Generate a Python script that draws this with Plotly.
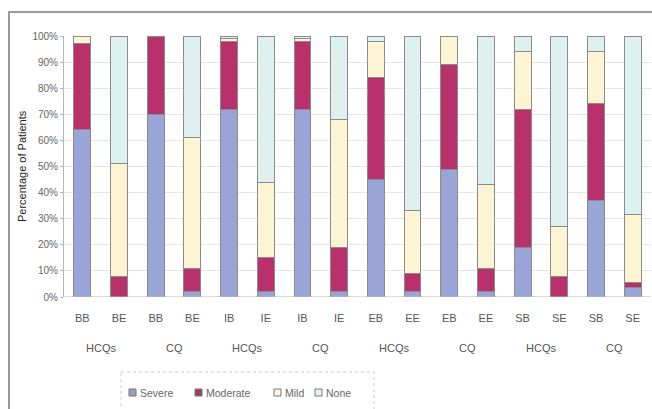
import plotly.graph_objects as go

# Drug groups and visit/stage labels for each bar
drugs = ["HCQs", "HCQs", "CQ", "CQ", "HCQs", "HCQs", "CQ", "CQ",
         "HCQs", "HCQs", "CQ", "CQ", "HCQs", "HCQs", "CQ", "CQ"]
stages = ["BB", "BE", "BB", "BE", "IB", "IE", "IB", "IE",
          "EB", "EE", "EB", "EE", "SB", "SE", "SB", "SE"]

# Percentage of patients in each severity class
severe = [64, 0, 70, 2, 72, 2, 72, 2, 45, 2, 49, 2, 19, 0, 37, 3.5]
moderate = [33, 8, 30, 9, 26, 13, 26, 17, 39, 7, 40, 9, 53, 8, 37, 2]
mild = [3, 43, 0, 50, 1, 29, 1, 49, 14, 24, 11, 32, 22, 19, 20, 26]
none = [0, 49, 0, 39, 1, 56, 1, 32, 2, 67, 0, 57, 6, 73, 6, 68.5]

series_names = ["Severe", "Moderate", "Mild", "None"]
series_values = [severe, moderate, mild, none]
colors = ["#98a5d6", "#b8316d", "#fdf4d4", "#dff0f0"]
legend_colors = ["#9aa0c4", "#98415f", "#fbf6e4", "#e6f1f1"]

W, H = 652, 409
L, R, T, B = 64, 651, 36, 297  # plot area in pixels


def px(x):
    return (x - L) / (R - L)


def py(y):
    return (B - y) / (B - T)


xpos = list(range(len(stages)))

fig = go.Figure()
for name, vals, col in zip(series_names, series_values, colors):
    fig.add_trace(go.Bar(
        x=xpos, y=vals, name=name, marker_color=col,
        marker_line_color="#8c8c8c", marker_line_width=1,
        width=0.46, showlegend=False,
    ))

font_family = "Liberation Sans, Arial, sans-serif"

annotations = []
# Drug group labels under each pair of bars
for i in range(0, len(drugs), 2):
    annotations.append(dict(
        x=i + 0.5, xref="x", y=py(348), yref="paper",
        text=drugs[i], showarrow=False, xanchor="center", yanchor="middle",
        font=dict(size=11, color="#555555", family=font_family),
    ))

# Y axis title
annotations.append(dict(
    x=px(22), xref="paper", y=py(166), yref="paper",
    text="Percentage of Patients", textangle=-90, showarrow=False,
    xanchor="center", yanchor="middle",
    font=dict(size=11, color="#222222", family=font_family),
))

shapes = []
# Outer frame (top and left edges)
shapes.append(dict(
    type="path", xref="paper", yref="paper",
    path=f"M {px(9)} {py(412)} L {px(9)} {py(12)} L {px(655)} {py(12)}",
    line=dict(color="#7a7a7a", width=1.5),
))
# Legend box
shapes.append(dict(
    type="rect", xref="paper", yref="paper",
    x0=px(121), x1=px(374), y0=py(372), y1=py(415),
    line=dict(color="#cccccc", width=1, dash="dot"),
    fillcolor="rgba(0,0,0,0)",
))

legend_x = [129, 195, 274, 315]
for name, col, lx in zip(series_names, legend_colors, legend_x):
    shapes.append(dict(
        type="rect", xref="paper", yref="paper",
        x0=px(lx), x1=px(lx + 7), y0=py(396), y1=py(389),
        line=dict(color="#777777", width=1), fillcolor=col,
    ))
    annotations.append(dict(
        x=px(lx + 9), xref="paper", y=py(392.5), yref="paper",
        text=name, showarrow=False, xanchor="left", yanchor="middle",
        font=dict(size=10.5, color="#666666", family=font_family),
    ))

fig.update_layout(
    barmode="stack",
    width=W, height=H,
    margin=dict(l=L, r=W - R, t=T, b=H - B, pad=0),
    plot_bgcolor="white", paper_bgcolor="white",
    font=dict(family=font_family, size=11, color="#555555"),
    xaxis=dict(
        tickmode="array", tickvals=xpos, ticktext=stages,
        range=[-0.5, len(stages) - 0.5],
        showgrid=False, zeroline=False, showline=False,
        ticks="", ticklabelstandoff=13,
        tickfont=dict(size=11, color="#555555"),
    ),
    yaxis=dict(
        range=[0, 100], dtick=10, ticksuffix="%",
        showgrid=True, gridcolor="#e6e6e6", gridwidth=1,
        zeroline=False, showline=True, linecolor="#b5b5b5", linewidth=1,
        ticks="outside", ticklen=3, tickcolor="#b5b5b5",
        tickfont=dict(size=10, color="#666666"),
    ),
    shapes=shapes,
    annotations=annotations,
)
# Baseline at 0%
fig.add_hline(y=0, line_color="#b5b5b5", line_width=1)

fig.write_html("out.html")
